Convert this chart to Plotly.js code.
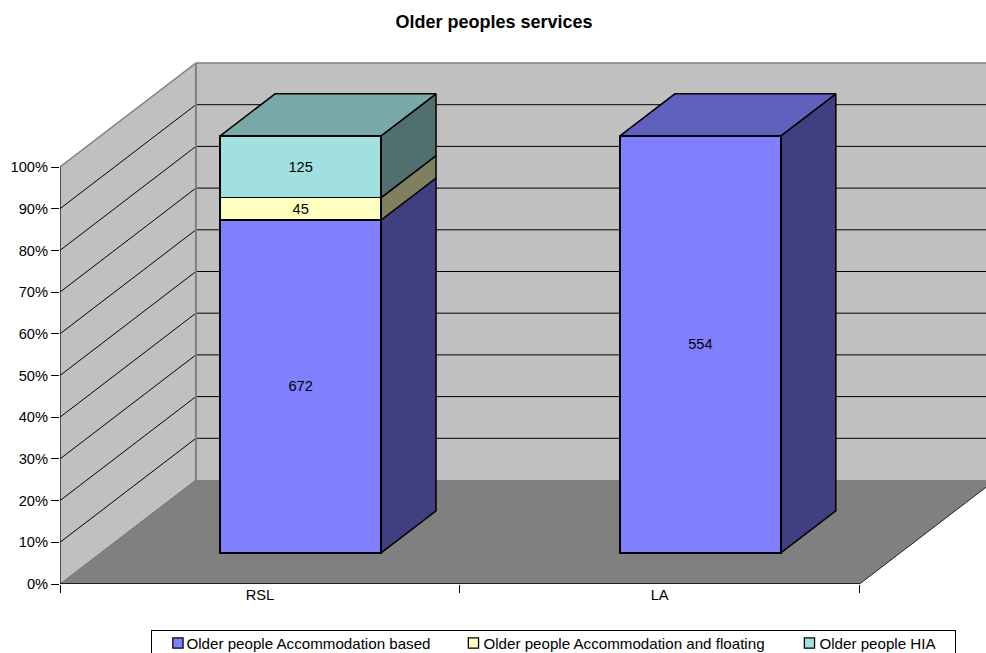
<!DOCTYPE html>
<html>
<head>
<meta charset="utf-8">
<script src="https://cdn.plot.ly/plotly-3.0.1.min.js"></script>
<style>html,body{margin:0;padding:0;background:#fff;overflow:hidden}</style>
</head>
<body>
<div id="chart" style="width:986px;height:653px"></div>
<script>
// Chart content
const categories = ['RSL', 'LA'];
const seriesNames = ['Older people Accommodation based', 'Older people Accommodation and floating', 'Older people HIA'];
const accommodationBased = [672, 554];
const accommodationFloating = [45, null];
const hia = [125, null];
const percentTicks = [0, 10, 20, 30, 40, 50, 60, 70, 80, 90, 100];

// Series colours: front, side and top faces of each block
const frontColors = ['#8080FF', '#FFFFC0', '#A0E0E0'];
const sideColors = ['#404080', '#808060', '#507070'];
const topColors = ['#6060BF', '#BFBF90', '#78A8A8'];

// Oblique projection: how far the full floor depth shifts a point, in axis units
const DEPTH_X = 0.34, DEPTH_Y = 24.94;
const BAR_NEAR = 0.30, BAR_FAR = 0.704, BAR_WIDTH = 0.4025;
const X_RANGE = [-0.5, 1.8163], Y_RANGE = [0, 125.42];
const project = (x, pct, depth) => [x + depth * DEPTH_X, pct + depth * DEPTH_Y];

const seriesValues = [accommodationBased, accommodationFloating, hia];
const FONT = 'Liberation Sans, Arial, sans-serif';

// Legend entry placement: left edge of each label and centre of each swatch
const legendTextLeft = [186, 483, 819];
const legendSwatchCentre = [177.5, 473, 809];
const LEGEND_LEFT = 151, LEGEND_WIDTH = 804, LEGEND_TOP = 629.5, LEGEND_TEXT_Y = 643;

function polygon(points, fill, lineColor, lineWidth) {
  return {
    type: 'scatter', mode: 'lines', xaxis: 'x2', yaxis: 'y',
    x: points.map(p => p[0]), y: points.map(p => p[1]),
    fill: 'toself', fillcolor: fill,
    line: { color: lineColor || fill, width: lineWidth === undefined ? 0 : lineWidth },
    hoverinfo: 'skip', showlegend: false
  };
}
function polyline(points, color, width) {
  return {
    type: 'scatter', mode: 'lines', xaxis: 'x2', yaxis: 'y', cliponaxis: false,
    x: points.map(p => p ? p[0] : null), y: points.map(p => p ? p[1] : null),
    line: { color: color, width: width }, connectgaps: false,
    hoverinfo: 'skip', showlegend: false
  };
}

const x0 = -0.5, xEnd = 1.5;
const traces = [];

// Placeholder that gives the category axis its ticks and labels
traces.push({
  type: 'scatter', mode: 'markers', x: categories, y: [null, null],
  hoverinfo: 'skip', showlegend: false
});

// Walls and floor
traces.push(polygon([project(x0, 0, 0), project(x0, 0, 1), project(x0, 100, 1), project(x0, 100, 0)], '#C0C0C0'));
traces.push(polygon([project(x0, 0, 1), project(xEnd, 0, 1), project(xEnd, 100, 1), project(x0, 100, 1)], '#C0C0C0'));
traces.push(polygon([project(x0, 0, 0), project(xEnd, 0, 0), project(xEnd, 0, 1), project(x0, 0, 1)], '#808080'));

// Gridlines across the side wall and back wall
const gridPts = [];
percentTicks.filter(t => t > 0 && t < 100).forEach(t => {
  gridPts.push(project(x0, t, 0), project(x0, t, 1), project(xEnd, t, 1), null);
});
traces.push(polyline(gridPts, '#000000', 1));

// Wall edges
traces.push(polyline([project(x0, 100, 0), project(x0, 100, 1), project(xEnd, 100, 1)], '#808080', 1.5));
traces.push(polyline([project(x0, 0, 1), project(x0, 100, 1)], '#808080', 2));
traces.push(polyline([project(x0, 0, 0), project(x0, 0, 1)], '#707070', 1));
traces.push(polyline([project(x0, 0, 0), project(x0, 100, 0)], '#000000', 1.2));
traces.push(polyline([project(x0, 0, 0), project(xEnd, 0, 0)], '#202020', 2));
traces.push(polyline([project(xEnd, 0, 0), project(xEnd, 0, 1)], '#202020', 1));

// Side and top faces of the blocks, from each category's share of its total
categories.forEach((cat, i) => {
  const total = seriesValues.reduce((s, v) => s + (v[i] || 0), 0);
  const right = i + BAR_WIDTH / 2;
  const left = i - BAR_WIDTH / 2;
  let low = 0, lastSeries = 0;
  seriesValues.forEach((vals, s) => {
    if (!vals[i]) return;
    const high = low + vals[i] / total * 100;
    traces.push(polygon([
      project(right, low, BAR_NEAR), project(right, low, BAR_FAR),
      project(right, high, BAR_FAR), project(right, high, BAR_NEAR),
      project(right, low, BAR_NEAR)
    ], sideColors[s], '#000000', 1.5));
    low = high;
    lastSeries = s;
  });
  traces.push(polygon([
    project(left, 100, BAR_NEAR), project(right, 100, BAR_NEAR),
    project(right, 100, BAR_FAR), project(left, 100, BAR_FAR),
    project(left, 100, BAR_NEAR)
  ], topColors[lastSeries], '#000000', 1.5));
});

// Front faces: stacked bars normalised to 100 %, on axes shifted to the blocks' near plane
seriesNames.forEach((name, s) => {
  traces.push({
    type: 'bar', name: name, xaxis: 'x3', yaxis: 'y3',
    x: categories, y: seriesValues[s], width: BAR_WIDTH,
    marker: { color: frontColors[s], line: { color: '#000000', width: 1.5 } },
    text: seriesValues[s].map(v => v === null ? '' : String(v)),
    textposition: 'inside', insidetextanchor: 'middle', textangle: 0,
    insidetextfont: { family: FONT, size: 14.67, color: '#000000' },
    hoverinfo: 'skip'
  });
});

const nearShiftX = BAR_NEAR * DEPTH_X, nearShiftY = BAR_NEAR * DEPTH_Y;

const MARGIN = { l: 59.5, r: 0, t: 61, b: 69, autoexpand: false };
const plotWidth = 986 - MARGIN.l, plotHeight = 653 - MARGIN.t - MARGIN.b;

const layout = {
  width: 986, height: 653,
  margin: MARGIN,
  paper_bgcolor: '#FFFFFF', plot_bgcolor: 'rgba(0,0,0,0)',
  font: { family: FONT, size: 14.67, color: '#000000' },
  title: {
    text: '<b>Older peoples services</b>', x: 494 / 986, xanchor: 'center', xref: 'container',
    y: 1 - 22 / 653, yanchor: 'middle', yref: 'container',
    font: { family: FONT, size: 18, color: '#000000' }
  },
  barmode: 'stack', barnorm: 'percent',
  xaxis: {
    type: 'category', categoryorder: 'array', categoryarray: categories,
    range: X_RANGE, tickson: 'boundaries', ticks: 'outside', ticklen: 8, tickwidth: 1,
    tickcolor: '#000000', showgrid: false, zeroline: false, showline: false, fixedrange: true
  },
  yaxis: {
    range: Y_RANGE, tickmode: 'array', tickvals: percentTicks, ticktext: percentTicks.map(t => t + '%'),
    ticks: 'outside', ticklen: 8, tickwidth: 1, tickcolor: '#000000',
    showgrid: false, zeroline: false, showline: false, fixedrange: true
  },
  xaxis2: { overlaying: 'x', range: X_RANGE, visible: false, fixedrange: true },
  xaxis3: {
    overlaying: 'x', type: 'category', categoryorder: 'array', categoryarray: categories,
    range: [X_RANGE[0] - nearShiftX, X_RANGE[1] - nearShiftX], visible: false, fixedrange: true
  },
  yaxis3: {
    overlaying: 'y', range: [Y_RANGE[0] - nearShiftY, Y_RANGE[1] - nearShiftY],
    visible: false, fixedrange: true
  },
  showlegend: true,
  legend: {
    orientation: 'h', x: (LEGEND_LEFT - MARGIN.l) / plotWidth, xanchor: 'left',
    y: 1 - (LEGEND_TOP - MARGIN.t) / plotHeight, yanchor: 'top',
    bordercolor: '#000000', borderwidth: 1, bgcolor: '#FFFFFF',
    font: { family: FONT, size: 15.15, color: '#000000' }, traceorder: 'normal'
  }
};

Plotly.newPlot('chart', traces, layout, { displayModeBar: false, staticPlot: true }).then(gd => {
  // The legend spaces its entries unevenly and keeps swatch and label close together
  const legend = gd.querySelector('.legend');
  const bg = legend.querySelector('.bg');
  bg.setAttribute('width', LEGEND_WIDTH);
  document.querySelectorAll('clipPath[id^="legend"] rect').forEach(r => r.setAttribute('width', LEGEND_WIDTH));
  const SWATCH_SCALE = 0.85;
  legend.querySelectorAll('.traces').forEach((entry, i) => {
    const textLocal = 40;
    const tx = legendTextLeft[i] - LEGEND_LEFT - textLocal;
    const ty = LEGEND_TEXT_Y - LEGEND_TOP;
    entry.setAttribute('transform', `translate(${tx},${ty})`);
    const symbols = entry.querySelector('.legendsymbols');
    const centre = legendSwatchCentre[i] - LEGEND_LEFT - tx;
    symbols.setAttribute('transform', `translate(${centre - 20 * SWATCH_SCALE},0) scale(${SWATCH_SCALE})`);
  });
});
</script>
</body>
</html>
